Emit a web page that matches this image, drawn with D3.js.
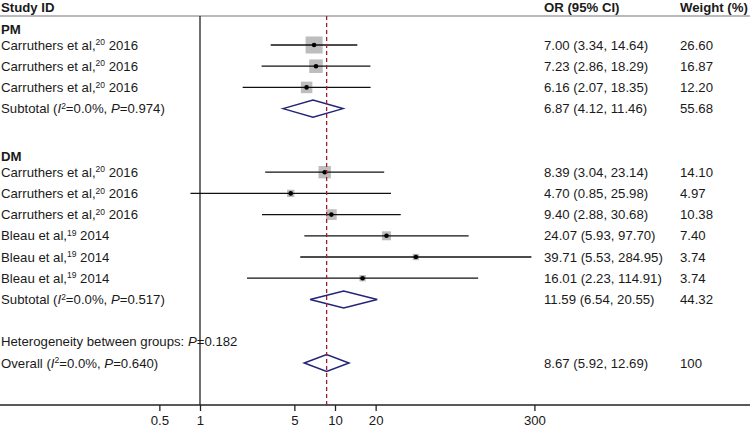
<!DOCTYPE html>
<html><head><meta charset="utf-8">
<script src="https://cdn.jsdelivr.net/npm/d3@7"></script>
<style>body{margin:0;background:#fff}svg{display:block}text{font-family:"Liberation Sans",Arial,sans-serif;font-size:13.2px;fill:#1a1a1a}</style>
</head><body><svg id="c" width="750" height="428"></svg>
<script>
// ---- data ----
const groups = ["PM", "DM"];
const studyNames = ["Carruthers et al,", "Carruthers et al,", "Carruthers et al,", "Carruthers et al,", "Carruthers et al,", "Carruthers et al,", "Bleau et al,", "Bleau et al,", "Bleau et al,"];
const studyRefs = ["20", "20", "20", "20", "20", "20", "19", "19", "19"];
const studyYears = ["2016", "2016", "2016", "2016", "2016", "2016", "2014", "2014", "2014"];
const studyGroup = ["PM", "PM", "PM", "DM", "DM", "DM", "DM", "DM", "DM"];
const orValues = [7.00, 7.23, 6.16, 8.39, 4.70, 9.40, 24.07, 39.71, 16.01];
const ciLow = [3.34, 2.86, 2.07, 3.04, 0.85, 2.88, 5.93, 5.53, 2.23];
const ciHigh = [14.64, 18.29, 18.35, 23.14, 25.98, 30.68, 97.70, 284.95, 114.91];
const weights = ["26.60", "16.87", "12.20", "14.10", "4.97", "10.38", "7.40", "3.74", "3.74"];
const subtotalOR = [6.87, 11.59];
const subtotalLow = [4.12, 6.54];
const subtotalHigh = [11.46, 20.55];
const subtotalWeight = ["55.68", "44.32"];
const subtotalI2 = ["0.0%", "0.0%"];
const subtotalP = ["0.974", "0.517"];
const heterogeneityP = "0.182";
const overallOR = 8.67, overallLow = 5.92, overallHigh = 12.69, overallWeight = "100";
const overallI2 = "0.0%", overallP = "0.640";
const tickValues = [0.5, 1, 5, 10, 20, 300];

// ---- layout ----
const svg = d3.select("#c");
const x = d3.scaleLog().domain([1, 10]).range([200, 335]);
const rowH = 21.2, row0 = 45;
const yRow = i => row0 + i * rowH;
const axisY = 405, topY = 16;
const colOR = 544, colW = 680;
const fmt = v => v.toFixed(2);

// build rows
const rows = [];
let r = 0;
groups.forEach((g, gi) => {
  rows.push({type: "head", label: g, row: r - 1});
  studyGroup.forEach((sg, i) => {
    if (sg === g) { rows.push({type: "study", i, row: r}); r++; }
  });
  rows.push({type: "sub", gi, row: r}); r++;
  r += 2; // blank + next heading
});
const hetRow = r - 1, overallRow = r;

// header
svg.append("text").attr("x", 1).attr("y", 12).style("font-weight", "bold").text("Study ID");
svg.append("text").attr("x", colOR).attr("y", 12).style("font-weight", "bold").text("OR (95% CI)");
svg.append("text").attr("x", colW).attr("y", 12).style("font-weight", "bold").text("Weight (%)");
svg.append("line").attr("x1", 0).attr("x2", 750).attr("y1", topY).attr("y2", topY).attr("stroke", "#777").attr("stroke-width", 1.2);

// null line
svg.append("line").attr("x1", x(1)).attr("x2", x(1)).attr("y1", topY).attr("y2", axisY).attr("stroke", "#222").attr("stroke-width", 1.3);

// axis
const axis = d3.axisBottom(x).tickValues(tickValues).tickFormat(d => String(d)).tickSize(6).tickPadding(5);
const ag = svg.append("g").attr("transform", `translate(0,${axisY})`).call(axis);
ag.select(".domain").remove();
ag.selectAll(".tick line").attr("stroke", "#222").attr("stroke-width", 1.3);
ag.selectAll(".tick text").attr("font-family", "Liberation Sans, Arial, sans-serif").attr("font-size", 13.2).attr("fill", "#1a1a1a");
svg.append("line").attr("x1", 0).attr("x2", 750).attr("y1", axisY).attr("y2", axisY).attr("stroke", "#222").attr("stroke-width", 1.3);

function statLabel(t, pre, i2, p) {
  t.append("tspan").text(pre + " (");
  t.append("tspan").style("font-style", "italic").text("I");
  t.append("tspan").attr("dy", -4.5).style("font-size", "8.5px").text("2");
  t.append("tspan").attr("dy", 4.5).text("=" + i2 + ", ");
  t.append("tspan").style("font-style", "italic").text("P");
  t.append("tspan").text("=" + p + ")");
}
function diamond(est, lo, hi, y) {
  const h = 8.5;
  svg.append("path")
    .attr("d", `M${x(lo)},${y}L${x(est)},${y - h}L${x(hi)},${y}L${x(est)},${y + h}Z`)
    .attr("fill", "none").attr("stroke", "#232378").attr("stroke-width", 1.5);
}

rows.forEach(d => {
  const y = yRow(d.row);
  if (d.type === "head") {
    svg.append("text").attr("x", 1).attr("y", y + 5.5).attr("dy", "0.35em").style("font-weight", "bold").text(d.label);
  } else if (d.type === "study") {
    const i = d.i;
    const t = svg.append("text").attr("x", 1).attr("y", y).attr("dy", "0.35em");
    t.append("tspan").text(studyNames[i]);
    t.append("tspan").attr("dy", -4.5).style("font-size", "8.5px").text(studyRefs[i]);
    t.append("tspan").attr("dy", 4.5).text(" " + studyYears[i]);
    const s = 3.3 * Math.sqrt(+weights[i]);
    svg.append("rect").attr("x", x(orValues[i]) - s / 2).attr("y", y - s / 2).attr("width", s).attr("height", s).attr("fill", "#bdbdbd");
    svg.append("line").attr("x1", x(ciLow[i])).attr("x2", x(ciHigh[i])).attr("y1", y).attr("y2", y).attr("stroke", "#111").attr("stroke-width", 1.3);
    svg.append("circle").attr("cx", x(orValues[i])).attr("cy", y).attr("r", 2.3).attr("fill", "#000");
    svg.append("text").attr("x", colOR).attr("y", y).attr("dy", "0.35em").text(`${fmt(orValues[i])} (${fmt(ciLow[i])}, ${fmt(ciHigh[i])})`);
    svg.append("text").attr("x", colW).attr("y", y).attr("dy", "0.35em").text(weights[i]);
  } else if (d.type === "sub") {
    const gi = d.gi;
    const t = svg.append("text").attr("x", 1).attr("y", y).attr("dy", "0.35em");
    statLabel(t, "Subtotal", subtotalI2[gi], subtotalP[gi]);
    diamond(subtotalOR[gi], subtotalLow[gi], subtotalHigh[gi], y);
    svg.append("text").attr("x", colOR).attr("y", y).attr("dy", "0.35em").text(`${fmt(subtotalOR[gi])} (${fmt(subtotalLow[gi])}, ${fmt(subtotalHigh[gi])})`);
    svg.append("text").attr("x", colW).attr("y", y).attr("dy", "0.35em").text(subtotalWeight[gi]);
  }
});

// heterogeneity
{
  const y = yRow(hetRow);
  const t = svg.append("text").attr("x", 1).attr("y", y).attr("dy", "0.35em");
  t.append("tspan").text("Heterogeneity between groups: ");
  t.append("tspan").style("font-style", "italic").text("P");
  t.append("tspan").text("=" + heterogeneityP);
}
// overall
{
  const y = yRow(overallRow);
  const t = svg.append("text").attr("x", 1).attr("y", y).attr("dy", "0.35em");
  statLabel(t, "Overall", overallI2, overallP);
  diamond(overallOR, overallLow, overallHigh, y);
  svg.append("text").attr("x", colOR).attr("y", y).attr("dy", "0.35em").text(`${fmt(overallOR)} (${fmt(overallLow)}, ${fmt(overallHigh)})`);
  svg.append("text").attr("x", colW).attr("y", y).attr("dy", "0.35em").text(overallWeight);
}

// overall effect dashed line
svg.append("line").attr("x1", x(overallOR)).attr("x2", x(overallOR)).attr("y1", topY).attr("y2", axisY)
  .attr("stroke", "#9a2030").attr("stroke-width", 1.3).attr("stroke-dasharray", "4,3");
</script></body></html>
